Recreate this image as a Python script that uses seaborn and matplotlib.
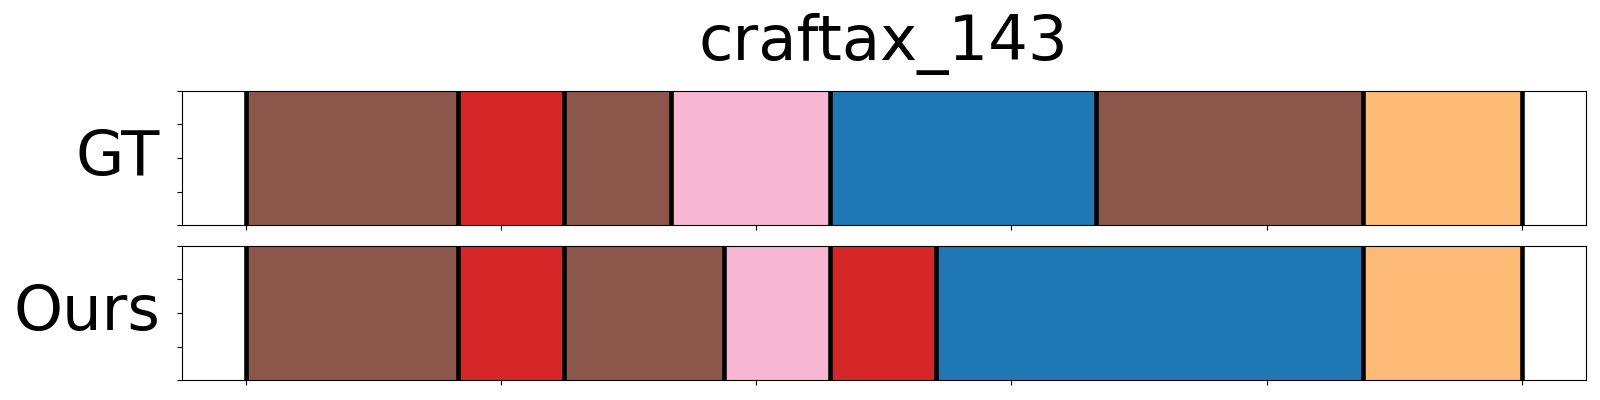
import matplotlib
matplotlib.use("Agg")
import matplotlib.pyplot as plt
import seaborn as sns

# Segment data (frame index boundaries + class id into tab20)
title = "craftax_143"
row_names = ["GT", "Ours"]
total_len = 250

gt_bounds = [0, 41.6, 62.3, 83.3, 114.5, 166.6, 218.8, 250]
gt_classes = [10, 6, 10, 13, 0, 10, 3]

ours_bounds = [0, 41.6, 62.3, 93.7, 114.5, 135.2, 218.8, 250]
ours_classes = [10, 6, 10, 13, 6, 0, 3]


def draw_row(ax, bounds, classes, palette, name):
    starts = bounds[:-1]
    widths = [b - a for a, b in zip(bounds[:-1], bounds[1:])]
    colors = [palette[c] for c in classes]
    ax.barh(y=0.5, width=widths, left=starts, height=1.0, color=colors,
            edgecolor=colors, linewidth=0.5)
    for b in bounds:
        ax.axvline(b, color="black", linewidth=3.3)
    ax.set_xlim(-0.05 * total_len, 1.05 * total_len)
    ax.set_ylim(0, 1)
    ax.set_yticks([0, 0.25, 0.5, 0.75, 1.0])
    ax.set_yticklabels([])
    ax.set_xticklabels([])
    ax.set_ylabel(name, fontsize=45, rotation=0, ha="right", va="center", color="black")
    ax.yaxis.set_label_coords(-0.0155, 0.5)


def main():
    sns.set_style("ticks", {"axes.edgecolor": "black", "xtick.color": "black",
                            "ytick.color": "black", "text.color": "black"})
    palette = sns.color_palette("tab20")
    fig, axes = plt.subplots(2, 1, figsize=(16, 4), dpi=100, sharex=True)
    fig.subplots_adjust(left=0.1138, right=0.991, top=0.7733, bottom=0.0493, hspace=0.1515)
    draw_row(axes[0], gt_bounds, gt_classes, palette, row_names[0])
    draw_row(axes[1], ours_bounds, ours_classes, palette, row_names[1])
    axes[0].set_title(title, fontsize=45, pad=22, color="black")
    axes[0].tick_params(labelbottom=False)
    fig.savefig("out.png", dpi=100)


if __name__ == "__main__":
    main()
